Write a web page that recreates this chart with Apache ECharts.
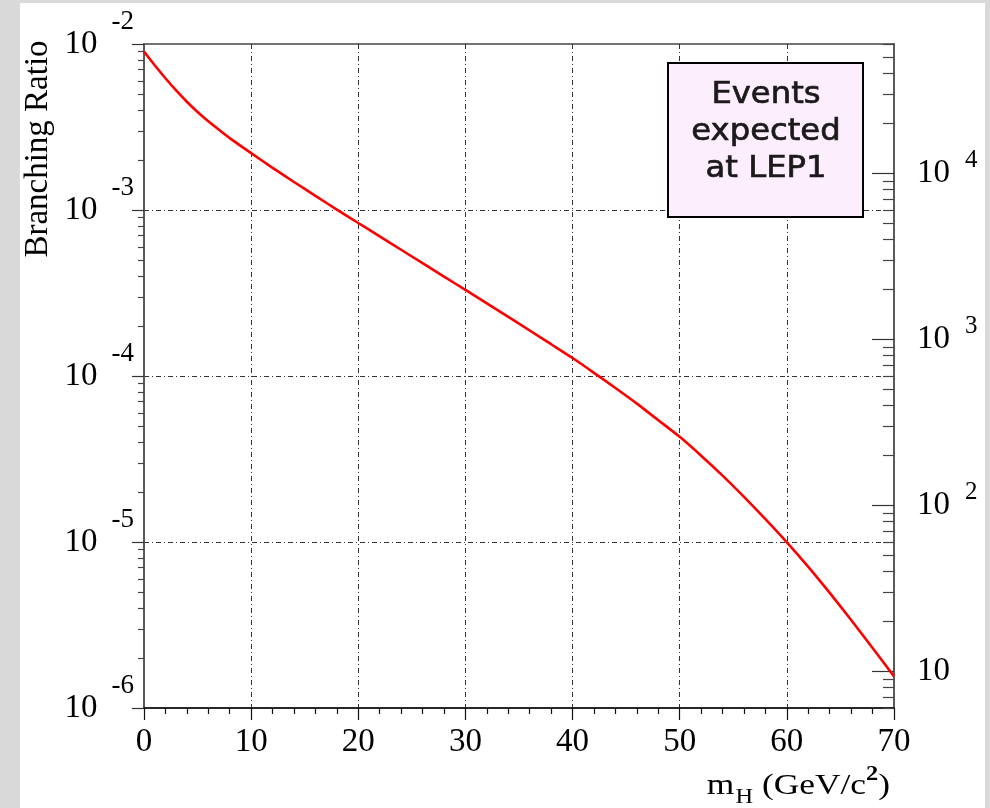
<!DOCTYPE html>
<html><head><meta charset="utf-8">
<script src="https://cdn.jsdelivr.net/npm/echarts@6/dist/echarts.min.js"></script>
<style>
html,body{margin:0;padding:0;width:990px;height:808px;overflow:hidden;background:#d9d9d9;}
#paper{position:absolute;left:20px;top:3px;width:965px;height:805px;background:#fff;}
#chart{position:absolute;left:0;top:0;width:990px;height:808px;}
</style></head><body>
<div id="paper"></div><div id="chart"></div>
<script>
// Higgs mass (GeV/c^2)
const massGeV = [0,1,2,3,4,5,6,7,8,10,12,14,16,18,20,22,24,26,28,30,32,34,36,38,40,42,44,46,48,50,52,54,56,58,60,62,64,66,68,70];
// Branching ratio
const branchingRatio = [8.99e-3,7.45e-3,6.22e-3,5.25e-3,4.49e-3,3.89e-3,3.42e-3,3.04e-3,2.71e-3,2.20e-3,1.795e-3,1.475e-3,1.216e-3,1.006e-3,8.35e-4,6.93e-4,5.76e-4,4.78e-4,3.97e-4,3.30e-4,2.74e-4,2.27e-4,1.88e-4,1.554e-4,1.283e-4,1.045e-4,8.47e-5,6.82e-5,5.42e-5,4.30e-5,3.31e-5,2.51e-5,1.87e-5,1.372e-5,9.95e-6,7.09e-6,4.94e-6,3.39e-6,2.30e-6,1.55e-6];
// axis ticks
const xMin = 0, xMax = 70, xInterval = 10;
const brMin = 1e-6, brMax = 1e-2;
const brMajorTicks = [1e-6,1e-5,1e-4,1e-3,1e-2];
const eventsPerUnitBR = 6.0e6; // Z decays at LEP1
const eventMin = brMin * eventsPerUnitBR, eventMax = brMax * eventsPerUnitBR;
const eventMajorTicks = [10,100,1000,10000];
const minorMultipliers = [2,3,4,5,6,7,8,9];
const brDecades = [1e-6,1e-5,1e-4,1e-3];
const eventDecades = [1,10,100,1000,10000];
const boxLines = ['Events','expected','at LEP1'];
const yTitle = 'Branching Ratio';

const brMinorTicks = [];
brDecades.forEach(d => minorMultipliers.forEach(m => brMinorTicks.push(+(m*d).toPrecision(6))));
const eventMinorTicks = [];
eventDecades.forEach(d => minorMultipliers.forEach(m => {
  const v = +(m*d).toPrecision(6);
  if (v >= eventMin && v <= eventMax) eventMinorTicks.push(v);
}));

const seriesData = massGeV.map((m, i) => [m, branchingRatio[i]]);
const SERIF = '"Liberation Serif", "Times New Roman", serif';
const axisColor = '#444';

function expLabel(v, showTen) {
  const e = Math.round(Math.log10(v));
  if (showTen && e === 1) return '{b|10}';
  return '{b|10}{e|' + e + '}';
}

const chart = echarts.init(document.getElementById('chart'), null, {renderer: 'canvas'});
chart.setOption({
  animation: false,
  backgroundColor: 'transparent',
  grid: {left: 144, right: 96, top: 44, bottom: 100, show: true, borderColor: axisColor, borderWidth: 1.5, backgroundColor: 'transparent'},
  xAxis: [{
    type: 'value', min: xMin, max: xMax, interval: xInterval,
    axisLine: {show: true, onZero: false, lineStyle: {color: '#111', width: 1.5}},
    axisTick: {show: true, inside: false, length: 12, lineStyle: {color: '#111', width: 1.2}},
    minorTick: {show: true, splitNumber: 5, length: 6, lineStyle: {color: '#111', width: 1.2}},
    axisLabel: {show: true, margin: 18, fontSize: 33, fontFamily: SERIF, color: '#000'},
    splitLine: {show: true, showMinLine: false, showMaxLine: false, lineStyle: {color: '#333', width: 1, type: [5,3,1,3]}}
  }],
  yAxis: [{
    type: 'log', logBase: 10, min: brMin, max: brMax, position: 'left',
    axisLine: {show: true, lineStyle: {color: '#555', width: 1.6}},
    axisTick: {show: true, inside: false, length: 12, customValues: brMajorTicks, lineStyle: {color: '#333', width: 1.2}},
    axisLabel: {show: true, margin: 10, customValues: brMajorTicks,
      formatter: v => expLabel(v, false),
      rich: {
        b: {fontSize: 33, fontFamily: SERIF, color: '#000'},
        e: {fontSize: 27, fontFamily: SERIF, color: '#000', padding: [0,0,44,14]}
      }},
    splitLine: {show: true, showMinLine: false, showMaxLine: false, lineStyle: {color: '#333', width: 1, type: [5,3,1,3]}}
  }, {
    type: 'log', logBase: 10, min: brMin, max: brMax, position: 'left',
    axisLine: {show: false},
    axisTick: {show: true, inside: false, length: 6, customValues: brMinorTicks, lineStyle: {color: '#444', width: 1.2}},
    axisLabel: {show: false},
    splitLine: {show: false}
  }, {
    type: 'log', logBase: 10, min: eventMin, max: eventMax, position: 'right',
    axisLine: {show: true, lineStyle: {color: '#555', width: 1.6}},
    axisTick: {show: true, inside: true, length: 22, customValues: eventMajorTicks, lineStyle: {color: '#333', width: 1.2}},
    axisLabel: {show: true, margin: 23, customValues: eventMajorTicks,
      formatter: v => expLabel(v, true),
      rich: {
        b: {fontSize: 33, fontFamily: SERIF, color: '#000'},
        e: {fontSize: 25, fontFamily: SERIF, color: '#000', padding: [0,0,26,15]}
      }},
    splitLine: {show: false}
  }, {
    type: 'log', logBase: 10, min: eventMin, max: eventMax, position: 'right',
    axisLine: {show: false},
    axisTick: {show: true, inside: true, length: 11, customValues: eventMinorTicks, lineStyle: {color: '#444', width: 1.2}},
    axisLabel: {show: false},
    splitLine: {show: false}
  }],
  series: [{
    type: 'line', xAxisIndex: 0, yAxisIndex: 0,
    data: seriesData, showSymbol: false, smooth: 0.2,
    lineStyle: {color: '#ff0000', width: 2.6}, z: 5
  }],
  graphic: [
    {type: 'text', x: 38, y: 149, rotation: Math.PI/2, z: 10,
     style: {text: yTitle, fontSize: 33, fontFamily: SERIF, fill: '#000', align: 'center', verticalAlign: 'middle'}},
    {type: 'text', x: 890, y: 786, scaleX: 1.22, z: 10,
     style: {text: '{m|m}{s|H}{n| (GeV/c}{p|2}{n|)}', align: 'right', verticalAlign: 'middle',
       rich: {
         m: {fontSize: 29, fontFamily: SERIF, fill: '#000'},
         n: {fontSize: 29, fontFamily: SERIF, fill: '#000'},
         s: {fontSize: 20, fontFamily: SERIF, fill: '#000', padding: [24,0,0,1]},
         p: {fontSize: 20, fontFamily: SERIF, fontWeight: 'bold', fill: '#000', padding: [0,0,22,0]}
       }}},
    {type: 'rect', z: 20, shape: {x: 668, y: 63, width: 195, height: 154},
     style: {fill: '#fdeefd', stroke: '#000', lineWidth: 2}},
    {type: 'text', x: 766, y: 132, z: 21, scaleX: 1.04,
     style: {text: boxLines.join('\n'), fontSize: 31, lineHeight: 37, fontFamily: '"DejaVu Sans", sans-serif', fill: '#1a1a1a', stroke: '#1a1a1a', lineWidth: 0.7, align: 'center', verticalAlign: 'middle'}}
  ]
});
</script>
</body></html>
